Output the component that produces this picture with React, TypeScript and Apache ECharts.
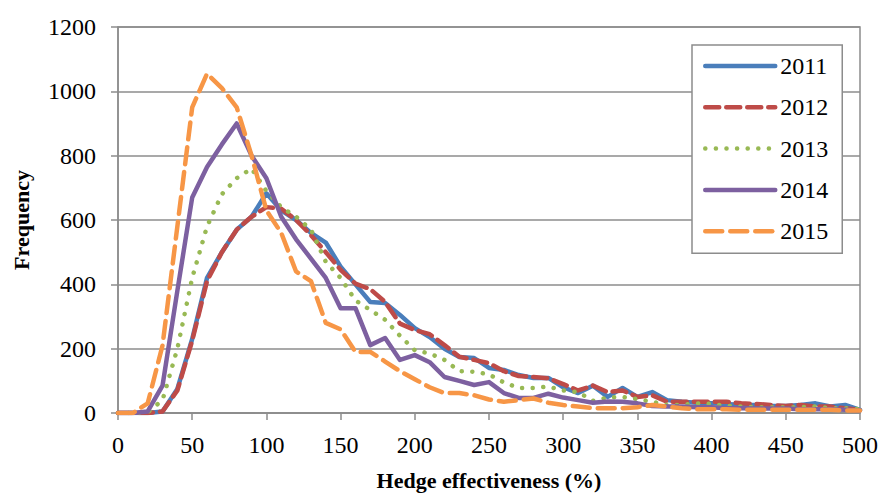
import React, { useEffect, useRef } from "react";
import * as echarts from "echarts";

const xValues = [0,10,20,30,40,50,60,70,80,90,100,110,120,130,140,150,160,170,180,190,200,210,220,230,240,250,260,270,280,290,300,310,320,330,340,350,360,370,380,390,400,410,420,430,440,450,460,470,480,490,500];

const s2011 = [0,0,0,5,75,230,420,500,570,610,683,630,600,560,530,455,400,345,342,305,264,236,200,174,171,140,134,118,109,109,80,62,85,50,78,50,65,40,35,32,30,28,25,25,22,22,25,30,20,25,10];
const s2012 = [0,0,0,5,70,225,410,500,570,610,640,635,600,553,500,445,402,385,345,278,258,245,211,175,165,155,130,115,112,108,90,70,85,65,70,50,55,35,35,35,35,35,30,28,25,22,25,20,20,15,10];
const s2013 = [0,0,2,40,200,420,580,680,730,760,690,640,610,570,470,420,350,320,290,240,195,185,165,130,128,120,95,78,78,82,70,65,38,48,50,43,35,25,25,30,28,22,20,18,18,18,18,20,15,15,12];
const s2014 = [0,0,5,85,380,670,765,835,900,800,730,610,540,480,420,326,326,211,233,165,180,158,112,100,87,96,62,47,47,60,48,40,32,36,35,30,22,20,20,18,18,15,15,14,14,14,12,12,12,10,8];
const s2015 = [0,0,30,210,580,950,1055,1010,950,800,630,560,440,410,280,260,190,190,160,130,105,80,62,62,55,42,35,40,45,32,25,20,15,15,15,18,25,20,15,12,12,12,10,10,10,10,10,10,10,8,8];

const seriesNames = ["2011", "2012", "2013", "2014", "2015"];
const seriesData = [s2011, s2012, s2013, s2014, s2015];
const colors = ["#4a7ebb", "#be4b48", "#98b954", "#7d60a0", "#f79646"];
const dashTypes: any[] = ["solid", [14, 7], [0.1, 10.5], "solid", [17, 8]];

const FONT = "'Liberation Serif', 'Times New Roman', serif";
const GRID = "#8c8c8c";

export default function App() {
  const ref = useRef<HTMLDivElement>(null);
  useEffect(() => {
    if (!ref.current) return;
    const chart = echarts.init(ref.current, null, { renderer: "svg" });
    chart.setOption({
      animation: false,
      backgroundColor: "#ffffff",
      grid: {
        left: 118,
        right: 20,
        top: 27,
        bottom: 82,
        outerBoundsMode: "none",
        containLabel: false,
        show: true,
        borderColor: GRID,
        borderWidth: 1.5,
        backgroundColor: "transparent",
      },
      legend: {
        orient: "vertical",
        left: 692,
        top: 45,
        width: 149,
        padding: [9, 14, 10, 11],
        itemWidth: 70,
        itemHeight: 14,
        itemGap: 17.3,
        backgroundColor: "#ffffff",
        borderColor: GRID,
        borderWidth: 1.5,
        borderRadius: 0,
        data: seriesNames,
        itemStyle: { opacity: 0 },
        lineStyle: { width: 4.5 },
        textStyle: { fontFamily: FONT, fontSize: 24, color: "#000" },
      },
      xAxis: {
        type: "value",
        min: 0,
        max: 500,
        interval: 50,
        name: "Hedge effectiveness (%)",
        nameLocation: "middle",
        nameGap: 56,
        nameTextStyle: { fontFamily: FONT, fontSize: 22, fontWeight: "bold", color: "#000" },
        axisLine: { show: true, lineStyle: { color: GRID, width: 1.5 } },
        axisTick: { show: true, length: 7, lineStyle: { color: GRID, width: 1.5 } },
        axisLabel: { fontFamily: FONT, fontSize: 24, color: "#000", margin: 20 },
        splitLine: { show: false },
      },
      yAxis: {
        type: "value",
        min: 0,
        max: 1200,
        interval: 200,
        name: "Frequency",
        nameLocation: "middle",
        nameGap: 86,
        nameTextStyle: { fontFamily: FONT, fontSize: 22, fontWeight: "bold", color: "#000" },
        axisLine: { show: true, lineStyle: { color: GRID, width: 1.5 } },
        axisTick: { show: true, length: 7, lineStyle: { color: GRID, width: 1.5 } },
        axisLabel: { fontFamily: FONT, fontSize: 24, color: "#000", margin: 22, formatter: (v: number) => String(v) },
        splitLine: { show: true, lineStyle: { color: GRID, width: 1.5 } },
      },
      series: seriesNames.map((name, i) => ({
        name,
        type: "line",
        data: xValues.map((x, j) => [x, seriesData[i][j]]),
        symbol: "none",
        showSymbol: false,
        color: colors[i],
        lineStyle: {
          color: colors[i],
          width: 4.5,
          type: dashTypes[i],
          cap: "round",
          join: "round",
        },
        z: 2 + i,
      })),
    });
    return () => chart.dispose();
  }, []);
  return <div ref={ref} style={{ width: 880, height: 495, position: "fixed", left: 0, top: 0 }} />;
}
